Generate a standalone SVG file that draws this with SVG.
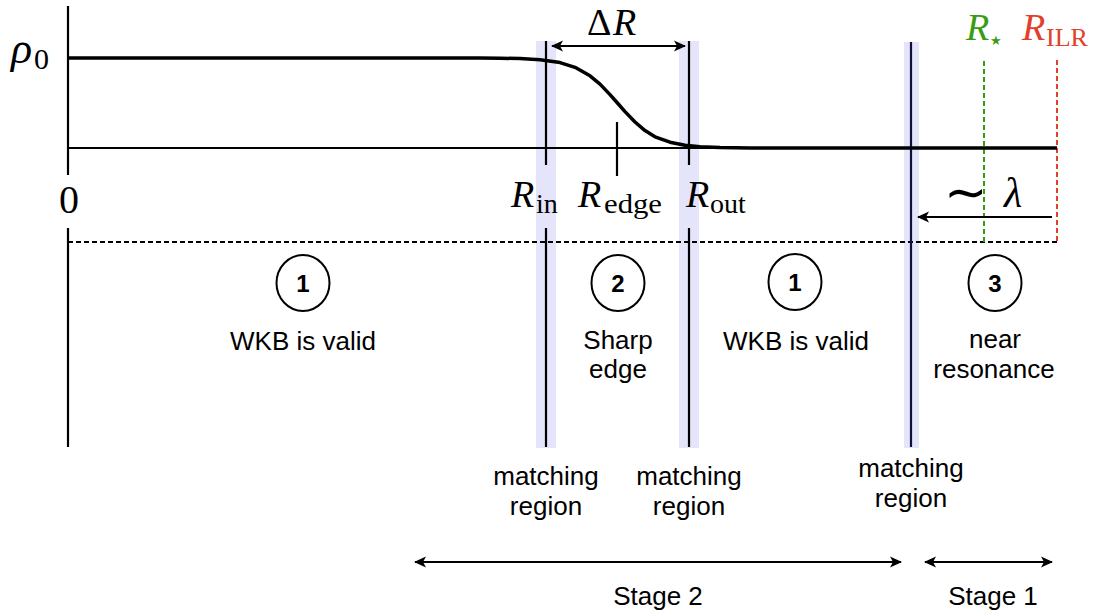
<svg xmlns="http://www.w3.org/2000/svg" width="1099" height="616" viewBox="0 0 1099 616">
<style>
.band{fill:#e4e4fa}
.ln{stroke:#000;stroke-width:2.2;fill:none}
.dash{stroke:#000;stroke-width:2;stroke-dasharray:5 3;fill:none}
.sans{font-family:"Liberation Sans",Arial,sans-serif;font-size:26px;fill:#000;text-anchor:middle}
.num{font-family:"Liberation Sans",Arial,sans-serif;font-size:24px;font-weight:bold;fill:#000;text-anchor:middle}
.circ{fill:none;stroke:#000;stroke-width:2}
.mi{font-family:"Liberation Serif","Times New Roman",serif;font-style:italic;font-size:38px}
.mr{font-family:"Liberation Serif","Times New Roman",serif;font-size:28px}
.arr{stroke:#000;stroke-width:2;fill:none}
</style>
<defs>
<marker id="ah" markerUnits="userSpaceOnUse" markerWidth="12" markerHeight="12" viewBox="0 0 12 12" refX="11" refY="6" orient="auto-start-reverse">
<path d="M0,0.5 L12,6 L0,11.5 L3,6 z" fill="#000"/>
</marker>
</defs>
<rect width="1099" height="616" fill="#fff"/>

<g id="bands">
<rect class="band" x="536" y="41" width="20" height="407"/>
<rect class="band" x="679" y="41" width="20" height="407"/>
<rect class="band" x="904" y="42" width="15" height="406"/>
</g>

<g id="axes">
<line class="ln" x1="68" y1="6" x2="68" y2="175"/>
<line class="ln" x1="68" y1="228" x2="68" y2="447"/>
<line class="ln" x1="68" y1="148" x2="1057" y2="148" stroke-width="2.5"/>
<line class="dash" x1="68" y1="242" x2="1057" y2="242"/>
<line class="ln" x1="546" y1="41" x2="546" y2="165"/>
<line class="ln" x1="546" y1="228" x2="546" y2="447"/>
<line class="ln" x1="689" y1="41" x2="689" y2="165"/>
<line class="ln" x1="689" y1="228" x2="689" y2="447"/>
<line class="ln" x1="911" y1="42" x2="911" y2="447" style="stroke:#10103a"/>
<line class="ln" x1="617" y1="122" x2="617" y2="176"/>
<line x1="984" y1="61" x2="984" y2="242" stroke="#3a9c10" stroke-width="2" stroke-dasharray="5 3"/>
<line x1="1057" y1="60" x2="1057" y2="242" stroke="#e2402a" stroke-width="2" stroke-dasharray="5 3"/>
</g>

<g id="profile">
<polyline fill="none" stroke="#000" stroke-width="3.5" stroke-linejoin="round" points="68,58 430,58 480,58.1 500,58.2 520,58.6 540,59.7 560,62.6 575,67.3 590,75.8 600,84.1 610,94.6 617,102.5 625,111.6 635,122 645,130.6 655,136.8 670,142.2 685,145.2 700,146.7 720,147.5 750,147.9 800,148 1057,148"/>
</g>

<g id="math-labels">
<text x="11" y="63" class="mi" style="font-size:44px">ρ</text>
<text x="34" y="69" class="mr" style="font-size:30px">0</text>
<text x="69" y="213" class="mr" style="font-size:40px;text-anchor:middle">0</text>
<text x="511" y="207" class="mi">R</text>
<text x="536" y="213" class="mr">in</text>
<text x="578" y="207" class="mi">R</text>
<text x="604" y="213" class="mr" textLength="58" lengthAdjust="spacingAndGlyphs">edge</text>
<text x="686" y="207" class="mi">R</text>
<text x="710" y="213" class="mr">out</text>
<text x="587" y="35" class="mr" style="font-size:38px">Δ</text>
<text x="613" y="35" class="mi">R</text>
<text x="966" y="40" class="mi" style="fill:#3a9c10">R</text>
<text x="990" y="45" font-family="DejaVu Sans,sans-serif" font-size="13" fill="#3a9c10">★</text>
<text x="1022" y="40" class="mi" style="fill:#e2402a">R</text>
<text x="1046" y="46" class="mr" style="font-size:26px;fill:#e2402a">ILR</text>
<text x="944" y="210" font-family="DejaVu Sans,sans-serif" font-size="52">∼</text>
<text x="1004" y="207" class="mi" style="font-size:42px">λ</text>
</g>

<g id="connectors">
<line class="arr" x1="552" y1="46" x2="685" y2="46" marker-start="url(#ah)" marker-end="url(#ah)"/>
<line class="arr" x1="1052" y1="217" x2="918" y2="217" marker-end="url(#ah)"/>
<line class="arr" x1="415" y1="562" x2="901" y2="562" marker-start="url(#ah)" marker-end="url(#ah)"/>
<line class="arr" x1="925" y1="562" x2="1052" y2="562" marker-start="url(#ah)" marker-end="url(#ah)"/>
</g>

<g id="region1a">
<ellipse class="circ" cx="303" cy="283" rx="26.5" ry="28"/>
<text x="303" y="292" class="num">1</text>
<text x="303" y="350" class="sans">WKB is valid</text>
</g>
<g id="region2">
<ellipse class="circ" cx="618" cy="283" rx="26.5" ry="28"/>
<text x="618" y="292" class="num">2</text>
<text x="618" y="349" class="sans">Sharp</text>
<text x="618" y="378" class="sans">edge</text>
</g>
<g id="region1b">
<ellipse class="circ" cx="795" cy="282" rx="26.5" ry="28"/>
<text x="795" y="291" class="num">1</text>
<text x="796" y="350" class="sans">WKB is valid</text>
</g>
<g id="region3">
<ellipse class="circ" cx="995" cy="283" rx="26.5" ry="28"/>
<text x="995" y="292" class="num">3</text>
<text x="995" y="348" class="sans">near</text>
<text x="994" y="378" class="sans">resonance</text>
</g>

<g id="matching1">
<text x="546" y="485" class="sans">matching</text>
<text x="546" y="515" class="sans">region</text>
</g>
<g id="matching2">
<text x="689" y="485" class="sans">matching</text>
<text x="689" y="515" class="sans">region</text>
</g>
<g id="matching3">
<text x="911" y="477" class="sans">matching</text>
<text x="911" y="507" class="sans">region</text>
</g>
<g id="stages">
<text x="658" y="605" class="sans">Stage 2</text>
<text x="993" y="605" class="sans">Stage 1</text>
</g>
</svg>
